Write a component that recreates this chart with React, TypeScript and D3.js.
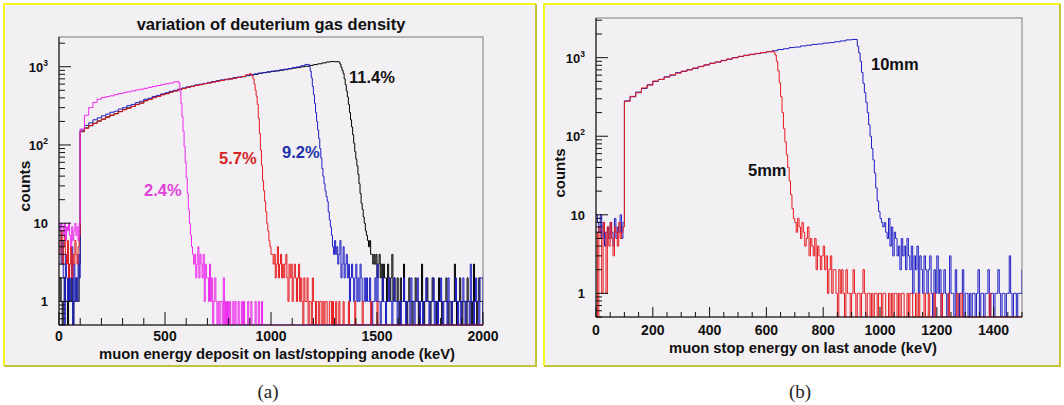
import React from 'react';
import * as d3 from 'd3';

// bin widths (keV) of the successive segments of every histogram
const LOW_W = 5;
const BODY_W = 20;
const FALL_W = 5;
const TAIL_W = 5;

// ---------- panel (a): variation of deuterium gas density ----------
const aBlackLow = [1, 2, 1, 0, 1, 2, 1, 1, 0, 2, 1, 1, 2, 0, 1, 1, 2, 1, 1, 3];
const aBlackBody = [148, 165, 176, 190, 203, 214, 229, 240, 252, 268, 285, 298, 312, 331, 344, 372, 385, 408, 420, 441,
  455, 478, 492, 512, 530, 548, 561, 580, 592, 610, 624, 642, 655, 670, 688, 700, 718, 731, 745, 770,
  788, 800, 825, 840, 856, 872, 885, 902, 918, 940, 962, 975, 1000, 1015, 1040, 1065, 1090, 1120, 1150, 1165, 1160];
const aBlackFall = [1150, 1080, 980, 900, 820, 700, 590, 490, 410, 330, 260, 210, 170, 135, 105, 82, 66, 54, 42, 32,
  24, 18, 15, 12, 10, 8, 7, 6, 5, 6, 4, 4, 3, 4];
const aBlackTail = [3, 4, 2, 3, 4, 2, 3, 1, 3, 2, 2, 1, 3, 2, 1, 2, 4, 1, 2, 1, 1, 2, 1, 0, 2, 1, 1, 3, 1, 1,
  0, 1, 2, 1, 1, 0, 1, 1, 2, 1, 1, 0, 1, 1, 3, 1, 0, 1, 1, 2, 1, 1, 0, 1, 2, 1, 1, 1, 0, 1,
  2, 1, 1, 0, 1, 1, 1, 2, 1, 0, 1, 1, 0, 1, 1, 3, 1, 0, 1, 1, 2, 1, 0, 1, 1, 1, 0, 2, 1, 1,
  1, 0, 1, 3, 1, 1, 0, 1, 2, 1, 1, 1];

const aBlueLow = [10, 8, 3, 6, 2, 0, 4, 2, 1, 3, 1, 2, 5, 0, 3, 1, 2, 1, 4, 2];
const aBlueBody = [155, 178, 192, 210, 222, 236, 248, 262, 270, 288, 300, 318, 330, 348, 362, 385, 396, 418, 430, 450,
  465, 485, 500, 518, 535, 552, 566, 585, 598, 612, 630, 645, 660, 678, 690, 705, 722, 738, 752, 772,
  790, 808, 828, 845, 860, 878, 892, 910, 930, 950, 975, 995, 1030, 1070];
const aBlueFall = [1000, 880, 720, 560, 440, 340, 260, 200, 155, 120, 90, 68, 50, 40, 32, 26, 22, 19, 14, 11,
  9, 7, 5, 4, 6, 4];
const aBlueTail = [5, 3, 4, 6, 2, 3, 5, 2, 3, 4, 2, 3, 1, 2, 3, 2, 1, 2, 3, 1, 2, 1, 3, 2, 1, 1, 2, 1, 2, 1,
  1, 2, 1, 0, 1, 1, 2, 1, 3, 1, 1, 0, 1, 2, 1, 1, 0, 1, 1, 2, 1, 1, 0, 1, 2, 1, 1, 0, 1, 1,
  0, 1, 1, 2, 1, 0, 1, 1, 1, 0, 2, 1, 1, 0, 1, 1, 2, 1, 0, 1, 1, 0, 1, 1, 2, 1, 1, 0, 1, 1,
  1, 2, 0, 1, 1, 0, 1, 1, 2, 1, 0, 1, 1, 1, 0, 2, 1, 1, 0, 1, 1, 1, 2, 1, 0, 1, 1, 0, 1, 2,
  1, 0, 1, 1, 1, 0, 3, 1, 1, 0, 1, 2, 1, 1, 0, 2, 2, 2];

const aRedLow = [4, 6, 8, 3, 5, 7, 4, 3, 6, 2, 3, 5, 2, 4, 3, 6, 4, 3, 5, 7];
const aRedBody = [150, 163, 178, 188, 201, 215, 226, 240, 250, 266, 282, 295, 310, 328, 342, 366, 382, 402, 418, 438,
  452, 472, 490, 508, 526, 545, 558, 575, 590, 606, 620, 638, 652, 668, 682, 698, 715, 728, 750, 790];
const aRedFall = [820, 800, 760, 700, 600, 500, 420, 330, 220, 140, 86, 55, 35, 26, 19, 14, 10, 8, 6, 5, 4, 4];
const aRedTail = [3, 4, 2, 3, 5, 2, 3, 4, 2, 3, 2, 3, 4, 2, 1, 3, 2, 3, 1, 2, 3, 2, 1, 2, 3, 1, 2, 1, 0, 2,
  1, 1, 2, 0, 1, 1, 0, 2, 1, 1, 0, 1, 1, 0, 1, 1, 0, 1, 0, 1, 1, 0, 0, 1, 1, 0, 1, 0, 0, 1,
  0, 0, 1, 0, 0, 0, 1, 0, 0, 0, 0, 1, 0, 0, 0, 0, 0, 1, 0, 0, 0, 0, 0, 0, 1, 0, 0, 0, 0, 0,
  0, 0, 1, 0, 0, 0, 0, 0, 1, 0];

const aMagentaLow = [10, 8, 10, 9, 7, 10, 6, 9, 8, 10, 7, 5, 9, 6, 8, 10, 7, 9, 6, 10];
const aMagentaBody = [160, 240, 300, 350, 385, 405, 415, 425, 440, 455, 465, 478, 490, 505, 515, 530, 545, 560, 575, 590,
  605, 620, 640];
const aMagentaFall = [650, 620, 480, 340, 230, 150, 95, 60, 38, 24, 15, 10, 7, 5, 4, 3, 4, 2];
const aMagentaTail = [3, 5, 2, 4, 3, 2, 4, 1, 3, 2, 2, 1, 3, 1, 2, 0, 1, 2, 1, 0, 1, 0, 1, 1, 0, 2, 0, 1, 0, 1,
  0, 1, 0, 0, 1, 0, 1, 0, 0, 1, 0, 0, 1, 0, 1, 0, 0, 0, 1, 0, 0, 1, 0, 0, 0, 1, 0, 0, 1, 0,
  0, 1, 0, 0];

// ---------- panel (b): muon stop energy ----------
const bBlueLow = [10, 8, 6, 10, 5, 8, 4, 6, 7, 5, 8, 6, 4, 9, 5, 7, 6, 10, 5, 8];
const bBlueBody = [282, 318, 365, 405, 452, 498, 530, 572, 598, 645, 668, 705, 730, 775, 805, 852, 878, 925, 955, 1005,
  1035, 1075, 1095, 1135, 1155, 1195, 1225, 1270, 1300, 1345, 1365, 1410, 1440, 1475, 1495, 1535, 1555, 1595, 1635, 1685, 1705];
const bBlueFall = [1400, 1150, 900, 650, 470, 360, 270, 200, 140, 100, 70, 50, 34, 22, 15, 11, 9, 8, 7];
const bBlueTail = [8, 6, 5, 9, 4, 7, 3, 6, 5, 3, 4, 2, 5, 3, 4, 2, 5, 3, 2, 4, 1, 3, 2, 4, 1, 3, 2, 1, 3, 2,
  1, 2, 3, 1, 0, 2, 1, 3, 1, 2, 0, 1, 2, 1, 0, 1, 3, 1, 1, 0, 2, 1, 0, 1, 1, 2, 0, 1, 1, 0,
  1, 0, 1, 1, 0, 1, 2, 0, 1, 1, 0, 1, 1, 2, 0, 1, 1, 0, 1, 1, 2, 1, 0, 1, 1, 0, 1, 1, 3, 1,
  0, 1, 1, 0, 1, 1, 1, 2];

const bRedLow = [6, 0, 7, 5, 1, 8, 6, 1, 7, 4, 8, 5, 3, 7, 6, 4, 8, 5, 6, 7];
const bRedBody = [278, 322, 358, 412, 448, 505, 528, 565, 605, 635, 675, 698, 740, 768, 815, 845, 885, 915, 962, 995,
  1042, 1065, 1108, 1125, 1165, 1190];
const bRedFall = [1220, 1180, 1080, 900, 680, 480, 320, 200, 125, 85, 58, 40, 27, 18, 12, 9, 8, 6];
const bRedTail = [9, 7, 5, 8, 6, 4, 5, 7, 3, 5, 4, 3, 5, 2, 4, 3, 2, 3, 4, 2, 3, 1, 2, 3, 1, 2, 2, 1, 0, 2,
  1, 2, 1, 0, 2, 1, 1, 0, 1, 2, 1, 0, 1, 1, 0, 1, 2, 1, 0, 1, 1, 0, 1, 0, 1, 1, 0, 1, 1, 0,
  1, 1, 0, 0, 1, 0, 1, 0, 1, 1, 0, 1, 0, 1, 1, 0, 0, 1, 0, 1, 1, 0, 0, 1, 0, 1, 0, 0, 0, 1,
  0, 0, 1, 0, 0, 0, 1, 0, 0, 0, 0, 1, 0, 0, 0, 0, 1, 0, 0, 0, 0, 0, 1, 0, 0, 1, 0, 0, 0, 0,
  0, 0, 0, 0, 0, 0, 0, 0, 0, 0, 0, 0, 0, 0, 0, 1, 0, 0];

type Seg = [number[], number];
type Bin = { x0: number; x1: number; v: number };

function toBins(segs: Seg[]): Bin[] {
  const out: Bin[] = [];
  let e = 0;
  for (const [vals, w] of segs) {
    for (const v of vals) {
      out.push({ x0: e, x1: e + w, v });
      e += w;
    }
  }
  return out;
}

const segs = (low: number[], body: number[], fall: number[], tail: number[]): Seg[] => [
  [low, LOW_W], [body, BODY_W], [fall, FALL_W], [tail, TAIL_W],
];

const FONT = '"Liberation Sans", Arial, Helvetica, sans-serif';
const BG = '#f3f0f3';

type Series = { color: string; bins: Bin[] };
type Label = { text: string; x: number; y: number; color: string };

type PanelProps = {
  id: string;
  frame: { x0: number; y0: number; x1: number; y1: number };
  plot: { left: number; right: number; top: number; bottom: number };
  xDomain: [number, number];
  yDomain: [number, number];
  xMajor: number;
  xMinor: number;
  xMajorLen: number;
  xMinorLen: number;
  series: Series[];
  labels: Label[];
  title?: string;
  xTitle: string;
  xTitleX: number;
  xTitleY: number;
  xLabelY: number;
  yTitleX: number;
  yTitleY: number;
  yTitleSize: number;
};

function Panel(p: PanelProps) {
  const { plot } = p;
  const x = d3.scaleLinear().domain(p.xDomain).range([plot.left, plot.right]);
  const y = d3.scaleLog().domain(p.yDomain).range([plot.bottom, plot.top]);
  const yb = plot.bottom;

  const path = (bins: Bin[]) => {
    const yy = (v: number) => (v > 0 ? Math.min(y(v), yb) : yb);
    let d = `M${x(0)},${yy(bins[0].v)}`;
    for (let i = 0; i < bins.length; i++) {
      d += `H${x(bins[i].x1)}`;
      const nv = i + 1 < bins.length ? yy(bins[i + 1].v) : yb;
      d += `V${nv}`;
    }
    d += `H${x(p.xDomain[1])}`;
    return d;
  };

  const xTicksMajor = d3.range(p.xDomain[0], p.xDomain[1] + 0.001, p.xMajor);
  const xTicksMinor = d3.range(p.xDomain[0], p.xDomain[1] + 0.001, p.xMinor).filter((t) => t % p.xMajor !== 0);
  const decades: number[] = [];
  const minors: number[] = [];
  for (let e = -1; e <= 4; e++) {
    for (let m = 1; m <= 9; m++) {
      const v = m * Math.pow(10, e);
      if (v < p.yDomain[0] || v > p.yDomain[1]) continue;
      if (m === 1) decades.push(v);
      else minors.push(v);
    }
  }
  const fx = p.frame;
  const clipId = `clip-${p.id}`;
  return (
    <g>
      <rect x={fx.x0} y={fx.y0} width={fx.x1 - fx.x0} height={fx.y1 - fx.y0} fill={BG} />
      <path d={`M${fx.x0},${fx.y1}V${fx.y0}H${fx.x1}`} fill="none" stroke="#f6f61e" strokeWidth={2} />
      <path d={`M${fx.x1},${fx.y0}V${fx.y1}H${fx.x0}`} fill="none" stroke="#c4c43a" strokeWidth={2} />
      <defs>
        <clipPath id={clipId}>
          <rect x={plot.left} y={plot.top} width={plot.right - plot.left} height={plot.bottom - plot.top + 0.5} />
        </clipPath>
      </defs>
      <rect x={plot.left} y={plot.top} width={plot.right - plot.left} height={plot.bottom - plot.top}
        fill="none" stroke="#7a7a7a" strokeWidth={1} />
      <g clipPath={`url(#${clipId})`}>
        {p.series.map((s, i) => (
          <path key={i} d={path(s.bins)} fill="none" stroke={s.color} strokeWidth={1} />
        ))}
      </g>
      <line x1={plot.left} x2={plot.left} y1={plot.top} y2={plot.bottom} stroke="#111" />
      <line x1={plot.left} x2={plot.right} y1={plot.bottom} y2={plot.bottom} stroke="#111" />
      {xTicksMajor.map((t) => (
        <g key={`xm${t}`}>
          <line x1={x(t)} x2={x(t)} y1={plot.bottom} y2={plot.bottom - p.xMajorLen} stroke="#111" />
          <text x={x(t)} y={p.xLabelY} textAnchor="middle" fontFamily={FONT} fontWeight="bold" fontSize={14} fill="#111">
            {t}
          </text>
        </g>
      ))}
      {xTicksMinor.map((t) => (
        <line key={`xn${t}`} x1={x(t)} x2={x(t)} y1={plot.bottom} y2={plot.bottom - p.xMinorLen} stroke="#111" />
      ))}
      {decades.map((v) => {
        const e = Math.round(Math.log10(v));
        return (
          <g key={`yd${v}`}>
            <line x1={plot.left} x2={plot.left + 12} y1={y(v)} y2={y(v)} stroke="#111" />
            {e <= 1 ? (
              <text x={plot.left - 11} y={y(v) + 5} textAnchor="end" fontFamily={FONT} fontWeight="bold" fontSize={13} fill="#111">
                {v >= 1 ? String(v) : ''}
              </text>
            ) : (
              <text x={plot.left - 11} y={y(v) + 5} textAnchor="end" fontFamily={FONT} fontWeight="bold" fontSize={13} fill="#111">
                10<tspan fontSize={8.5} dy={-6}>{e}</tspan>
              </text>
            )}
          </g>
        );
      })}
      {minors.map((v) => (
        <line key={`yn${v}`} x1={plot.left} x2={plot.left + 6} y1={y(v)} y2={y(v)} stroke="#111" />
      ))}
      {p.labels.map((l, i) => (
        <text key={i} x={l.x} y={l.y} fontFamily={FONT} fontWeight="bold" fontSize={16.5} fill={l.color}>
          {l.text}
        </text>
      ))}
      {p.title && (
        <text x={(plot.left + plot.right) / 2} y={30} textAnchor="middle" fontFamily={FONT} fontWeight="bold" fontSize={16.5} fill="#111">
          {p.title}
        </text>
      )}
      <text x={p.xTitleX} y={p.xTitleY} textAnchor="middle" fontFamily={FONT} fontWeight="bold" fontSize={14.8} fill="#111">
        {p.xTitle}
      </text>
      <text transform={`translate(${p.yTitleX},${p.yTitleY}) rotate(-90)`} textAnchor="middle" fontFamily={FONT}
        fontWeight="bold" fontSize={p.yTitleSize} fill="#111">
        counts
      </text>
    </g>
  );
}

const BLACK = '#000000';
const BLUE = '#1e1ec4';
const RED = '#e61a1e';
const MAGENTA = '#ec28ec';

export default function App() {
  const aSeries: Series[] = [
    { color: BLACK, bins: toBins(segs(aBlackLow, aBlackBody, aBlackFall, aBlackTail)) },
    { color: BLUE, bins: toBins(segs(aBlueLow, aBlueBody, aBlueFall, aBlueTail)) },
    { color: RED, bins: toBins(segs(aRedLow, aRedBody, aRedFall, aRedTail)) },
    { color: MAGENTA, bins: toBins(segs(aMagentaLow, aMagentaBody, aMagentaFall, aMagentaTail)) },
  ];
  const bSeries: Series[] = [
    { color: BLUE, bins: toBins(segs(bBlueLow, bBlueBody, bBlueFall, bBlueTail)) },
    { color: RED, bins: toBins(segs(bRedLow, bRedBody, bRedFall, bRedTail)) },
  ];
  const serif = '"Liberation Serif", "DejaVu Serif", serif';
  return (
    <svg width={1064} height={405} style={{ position: 'absolute', left: 0, top: 0, background: '#fff' }}>
      <Panel
        id="a"
        frame={{ x0: 4, y0: 4, x1: 536, y1: 366 }}
        plot={{ left: 59, right: 483, top: 37, bottom: 325 }}
        xDomain={[0, 2000]}
        yDomain={[0.5, 2400]}
        xMajor={500}
        xMinor={100}
        xMajorLen={13}
        xMinorLen={7}
        series={aSeries}
        labels={[
          { text: '11.4%', x: 349, y: 83, color: '#111' },
          { text: '9.2%', x: 282, y: 158, color: '#2233aa' },
          { text: '5.7%', x: 219, y: 164, color: '#d42424' },
          { text: '2.4%', x: 144, y: 196, color: '#e040d8' },
        ]}
        title="variation of deuterium gas density"
        xTitle="muon energy deposit on last/stopping anode (keV)"
        xTitleX={277}
        xTitleY={359}
        xLabelY={341}
        yTitleX={30}
        yTitleY={186}
        yTitleSize={15.5}
      />
      <Panel
        id="b"
        frame={{ x0: 544, y0: 4, x1: 1060, y1: 366 }}
        plot={{ left: 596, right: 1022, top: 18, bottom: 317 }}
        xDomain={[0, 1500]}
        yDomain={[0.5, 3200]}
        xMajor={200}
        xMinor={50}
        xMajorLen={10}
        xMinorLen={5}
        series={bSeries}
        labels={[
          { text: '10mm', x: 871, y: 70, color: '#111' },
          { text: '5mm', x: 748, y: 176, color: '#111' },
        ]}
        xTitle="muon stop energy on last anode (keV)"
        xTitleX={803}
        xTitleY={353}
        xLabelY={335}
        yTitleX={565}
        yTitleY={173}
        yTitleSize={15}
      />
      <text x={268} y={398} textAnchor="middle" fontFamily={serif} fontSize={19} fill="#222">
        (a)
      </text>
      <text x={800} y={398} textAnchor="middle" fontFamily={serif} fontSize={19} fill="#222">
        (b)
      </text>
    </svg>
  );
}
